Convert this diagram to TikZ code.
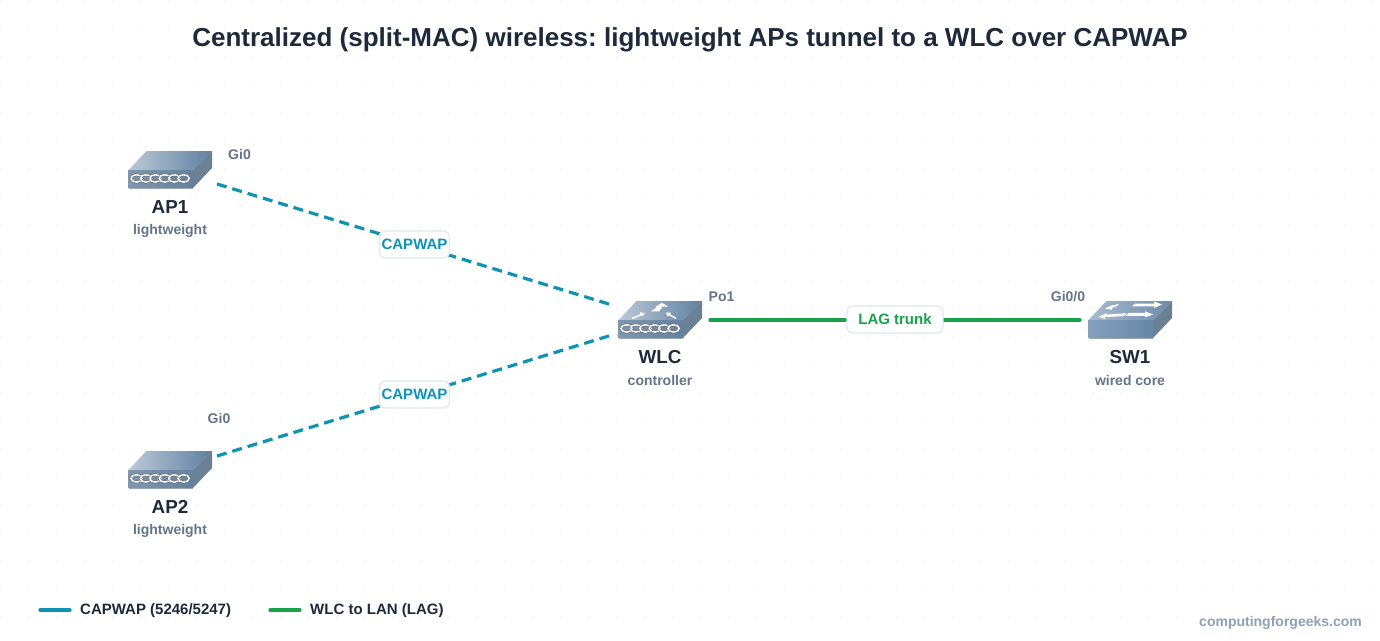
\documentclass[tikz,border=0pt]{standalone}
\usepackage{fontspec}
\setmainfont{Liberation Sans}
\frenchspacing
\usetikzlibrary{arrows.meta}
\definecolor{ink}{HTML}{1E293B}
\definecolor{muted}{HTML}{64748B}
\definecolor{capw}{HTML}{0E93B2}
\definecolor{lagg}{HTML}{16A34A}
\definecolor{brand}{HTML}{8CA0B8}
\definecolor{griddot}{HTML}{EEF1F5}
\definecolor{pillline}{HTML}{E0E7F0}
\definecolor{topL}{HTML}{BCC9D8}
\definecolor{topR}{HTML}{5F80A0}
\definecolor{swtopL}{HTML}{A9BBCF}
\definecolor{swtopR}{HTML}{6C8CAB}
\definecolor{frontL}{HTML}{8096AE}
\definecolor{frontR}{HTML}{64819F}
\definecolor{swfrontL}{HTML}{86A0BC}
\definecolor{swfrontR}{HTML}{6787A6}
\definecolor{sideC}{HTML}{6B7F95}
\definecolor{shadowC}{HTML}{9AA7B3}
\tikzset{
  x=1pt,y=-1pt,
  every node/.style={font=\bfseries},
  title/.style={font=\bfseries\fontsize{26}{30}\selectfont,text=ink,inner sep=0},
  devname/.style={font=\bfseries\fontsize{18.8}{22}\selectfont,text=ink,inner sep=0},
  devsub/.style={font=\bfseries\fontsize{14}{17}\selectfont,text=muted,inner sep=0},
  port/.style={font=\bfseries\fontsize{14}{17}\selectfont,text=muted,inner sep=0},
  legendtext/.style={font=\bfseries\fontsize{15}{17}\selectfont,text=ink,inner sep=0,anchor=west},
  pill/.style={draw=pillline,line width=1.2pt,fill=white,rounded corners=6pt,inner sep=0,
     minimum height=27pt,font=\bfseries\fontsize{15}{18}\selectfont},
  capline/.style={capw,line width=3.2pt,dash pattern=on 10pt off 6pt},
  lagline/.style={lagg,line width=4pt,line cap=round},
  legcap/.style={capw,line width=4pt,line cap=round},
  leglag/.style={lagg,line width=4pt,line cap=round},
  devbody/.pic={
    \fill[shadowC] (1,21)--(65,21)--(65,38.2)--(1,38.2)--cycle;
    \shade[left color=topL,right color=topR] (18.5,0)--(84,0)--(65,19.5)--(0,19.5)--cycle;
    \fill[sideC] (65,19.5)--(84,0)--(84,17)--(65,37)--cycle;
    \shade[left color=frontL,right color=frontR] (0,19.5)--(65,19.5)--(65,36.5)--(0,36.5)--cycle;
  },
  swbody/.pic={
    \fill[shadowC] (1,21)--(65,21)--(65,38.2)--(1,38.2)--cycle;
    \shade[left color=swtopL,right color=swtopR] (18.5,0)--(84,0)--(65,19.5)--(0,19.5)--cycle;
    \fill[sideC] (65,19.5)--(84,0)--(84,17)--(65,37)--cycle;
    \shade[left color=swfrontL,right color=swfrontR] (0,19.5)--(65,19.5)--(65,36.5)--(0,36.5)--cycle;
  },
  devchain/.pic={
    \foreach \k in {0,...,5}{
      \draw[ink!70,line width=2.6pt] (9.4*\k+8.6,27.4) ellipse[x radius=5.6,y radius=3.7];
      \draw[white,line width=1.5pt] (9.4*\k+8.6,27.4) ellipse[x radius=5.6,y radius=3.7];
    }
  },
  wlcarrows/.pic={
    \fill[white] (43.7,1.7)--(50.3,5.7)--(44.3,5.7)--(41.3,10.3)--(33,10.3)--(39.3,6.3)--(37,6.3)--cycle;
    \draw[white,line width=1.5pt] (14.3,17.3)--(24,13.3);
    \fill[white] (27,12)--(21.5,11.3)--(24,15.5)--cycle;
    \draw[white,line width=1.5pt] (58,17.3)--(51,13.5);
    \fill[white] (47.5,11.5)--(53,11.5)--(50,15.5)--cycle;
  },
  swarrows/.pic={
    \fill[white] (47,2.7)--(66,2.7)--(66,.5)--(74,3.5)--(66,7)--(66,5.3)--(44,5.3)--cycle;
    \fill[white] (17,7.5)--(25,3.8)--(24.5,4.8)--(31,2.6)--(29.5,4.8)--(24,7)--(24,8.8)--cycle;
    \fill[white] (10.5,15.7)--(19,12)--(18,13.6)--(39,12.2)--(36,15.2)--(17,16)--(17,18)--cycle;
    \fill[white] (65,13.5)--(57,10.3)--(57,11.8)--(41,11.8)--(38,14.8)--(57,14.8)--(57,16.3)--cycle;
  }
}
\begin{document}
\begin{tikzpicture}
\useasboundingbox (0,0) rectangle (1380,640);
\fill[white] (0,0) rectangle (1380,640);
\foreach \i in {0,...,49}{\foreach \j in {0,...,22}{
  \fill[griddot] (1+28*\i,1+28*\j) circle[radius=1];
}}
\node[title] (ttl) at (690,40) {Centralized (split-MAC) wireless: lightweight APs tunnel to a WLC over CAPWAP};

% devices
\pic at (128,151) {devbody}; \pic at (128,151) {devchain};
\pic at (128,451) {devbody}; \pic at (128,451) {devchain};
\pic at (618,301) {devbody}; \pic at (618,301) {devchain}; \pic at (618,301) {wlcarrows};
\pic at (1088,301) {swbody}; \pic at (1088,301) {swarrows};

\node[devname] (ap1) at (170,207) {AP1};
\node[devsub]  (ap1s) at (170,231) {lightweight};
\node[devname] (ap2) at (170,507) {AP2};
\node[devsub]  (ap2s) at (170,531) {lightweight};
\node[devname] (wlc) at (660,357) {WLC};
\node[devsub]  (wlcs) at (660,380) {controller};
\node[devname] (sw1) at (1130,357) {SW1};
\node[devsub]  (sw1s) at (1130,380) {wired core};

\node[port] (p1) at (239.5,154) {Gi0};
\node[port] (p2) at (219,418) {Gi0};
\node[port] (p3) at (721.5,296.5) {Po1};
\node[port] (p4) at (1068,296.5) {Gi0/0};

% connector ends
\coordinate (ap1port) at (217,184);
\coordinate (ap2port) at (217,456);
\coordinate (wlcup) at (612,305);
\coordinate (wlcdn) at (612,335);
\coordinate (wlcport) at (710.3,320);
\coordinate (swport) at (1079.7,320);
\coordinate (lab1) at (414.5,244.5);
\coordinate (lab2) at (414.5,394.5);
\coordinate (lab3) at (895,319.5);

\draw[capline] (ap1port) -- (wlcup);
\draw[capline] (ap2port) -- (wlcdn);
\draw[lagline] (wlcport) -- (swport);

\node[pill,text=capw,minimum width=70pt] (c1) at (lab1) {CAPWAP};
\node[pill,text=capw,minimum width=70pt] (c2) at (lab2) {CAPWAP};
\node[pill,text=lagg,minimum width=96pt] (c3) at (lab3) {LAG trunk};

% legend
\coordinate (la) at (40.3,610); \coordinate (lb) at (69.7,610);
\coordinate (lc) at (270.3,610); \coordinate (ld) at (299.7,610);
\draw[legcap] (la) -- (lb);
\draw[leglag] (lc) -- (ld);
\node[legendtext] (lt1) at (80,610.5) {CAPWAP (5246/5247)};
\node[legendtext] (lt2) at (310,610.5) {WLC to LAN (LAG)};

\node[font=\bfseries\fontsize{14}{17}\selectfont,text=brand,inner sep=0,anchor=east] (brandn) at (1362,622.5) {computingforgeeks.com};
\end{tikzpicture}
\end{document}
